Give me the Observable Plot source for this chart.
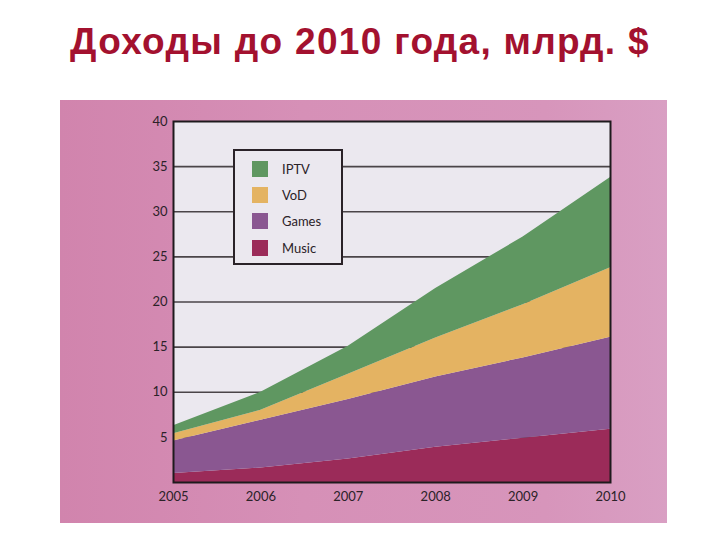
<!DOCTYPE html>
<html>
<head>
<meta charset="utf-8">
<script src="https://cdn.jsdelivr.net/npm/d3@7"></script>
<script src="https://cdn.jsdelivr.net/npm/@observablehq/plot@0.6"></script>
<style>
  html, body { margin: 0; padding: 0; background: #ffffff; }
  #page { position: relative; width: 720px; height: 540px; overflow: hidden; background: #fff; }
  #title { position: absolute; left: 0; top: 21px; width: 720px; text-align: center;
    font-family: "Liberation Sans", Arial, sans-serif; font-weight: bold; font-size: 37px;
    color: #a3112f; letter-spacing: 1.3px; white-space: nowrap; }
  #photo { position: absolute; left: 60px; top: 100px; width: 607px; height: 423px;
    background: linear-gradient(90deg, #d184ad 0%, #d690b7 40%, #d795bb 80%, #d99fc3 100%); }
  #chart { position: absolute; left: 60px; top: 100px; }
  #legend { position: absolute; left: 233px; top: 149px; width: 106px; height: 112px;
    border: 2px solid #2a2228; background: #ebe8ef; box-sizing: content-box;
    font-family: Lato, "Open Sans", sans-serif; font-size: 13px; color: #2b2228; }
  .item { position: absolute; left: 17px; height: 16px; display: flex; align-items: center; }
  .sw { width: 16px; height: 16px; margin-right: 14px; }
</style>
</head>
<body>
<div id="page">
  <div id="title">Доходы до 2010 года, млрд. $</div>
  <div id="photo"></div>
  <div id="chart"></div>
  <div id="legend"></div>
</div>
<script>
const years = [2005, 2006, 2007, 2008, 2009, 2010];
const series = ["Music", "Games", "VoD", "IPTV"];
const music = [1.0, 1.6, 2.6, 3.9, 4.9, 5.9];
const games = [3.6, 5.3, 6.6, 7.8, 8.9, 10.2];
const vod   = [0.8, 1.1, 2.8, 4.3, 5.9, 7.7];
const iptv  = [0.9, 2.0, 3.1, 5.5, 7.5, 10.0];
const colors = ["#9b2b59", "#8a5791", "#e4b362", "#5f9761"];
const yTicks = [5, 10, 15, 20, 25, 30, 35, 40];
const gridTicks = [5, 10, 15, 20, 25, 30, 35];
const legendOrder = ["IPTV", "VoD", "Games", "Music"];

const values = {Music: music, Games: games, VoD: vod, IPTV: iptv};
const data = series.flatMap(s => years.map((yr, i) => ({year: yr, series: s, value: values[s][i]})));

const chart = Plot.plot({
  width: 607,
  height: 423,
  marginLeft: 113,
  marginRight: 57,
  marginTop: 21,
  marginBottom: 41,
  style: {background: "transparent", fontFamily: "Lato, 'Open Sans', sans-serif", fontSize: "13px", color: "#2b2228"},
  x: {domain: [2005, 2010], ticks: years, tickFormat: d3.format("d"), tickSize: 0, tickPadding: 9, label: null},
  y: {domain: [0, 40], ticks: yTicks, tickSize: 0, tickPadding: 6, label: null},
  color: {domain: series, range: colors},
  marks: [
    Plot.frame({fill: "#ebe8ef", stroke: null}),
    Plot.ruleY(gridTicks, {stroke: "#4a4448", strokeWidth: 1.6}),
    Plot.areaY(data, {x: "year", y: "value", fill: "series", order: series}),
    Plot.frame({stroke: "#1e1a1d", strokeWidth: 2})
  ]
});
document.getElementById("chart").appendChild(chart);

const legend = document.getElementById("legend");
const rowTops = [10, 36, 62, 89];
legendOrder.forEach((s, i) => {
  const it = document.createElement("div");
  it.className = "item";
  it.style.top = rowTops[i] + "px";
  const sw = document.createElement("div");
  sw.className = "sw";
  sw.style.background = colors[series.indexOf(s)];
  const lb = document.createElement("span");
  lb.textContent = s;
  it.appendChild(sw);
  it.appendChild(lb);
  legend.appendChild(it);
});
</script>
</body>
</html>
